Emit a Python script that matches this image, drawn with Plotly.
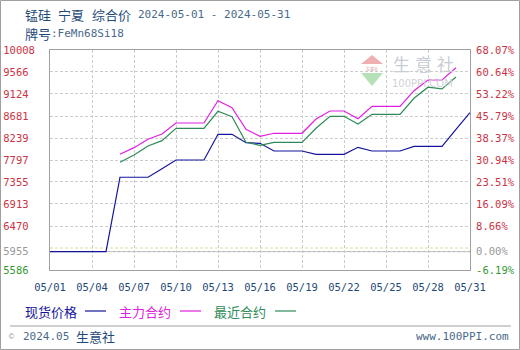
import plotly.graph_objects as go

# ---------------- data ----------------
dates = [f"2024-05-{d:02d}" for d in range(1, 32)]
spot = [5955, 5955, 5955, 5955, 5955, 7450, 7450, 7450, 7620, 7797, 7797, 7797,
        8314, 8314, 8145, 8132, 7978, 7978, 7978, 7911, 7911, 7911, 8052, 7978,
        7978, 7978, 8072, 8072, 8072, 8414, 8748]
main_contract = [None] * 5 + [7912, 8045, 8213, 8320, 8541, 8541, 8541, 8989, 8848,
                              8414, 8273, 8334, 8334, 8334, 8621, 8782, 8782, 8627,
                              8876, 8876, 8876, 9190, 9405, 9405, 9650, None]
near_contract = [None] * 5 + [7751, 7898, 8079, 8186, 8434, 8434, 8434, 8776, 8668,
                              8152, 8092, 8152, 8152, 8152, 8434, 8675, 8675, 8521,
                              8716, 8716, 8716, 9037, 9260, 9225, 9465, None]

y_ticks = [10008, 9566, 9124, 8681, 8239, 7797, 7355, 6913, 6470, 5955, 5586]
pct_labels = ["68.07%", "60.64%", "53.22%", "45.79%", "38.37%", "30.94%",
              "23.51%", "16.09%", "8.66%", "0.00%", "-6.19%"]
x_tick_dates = dates[::3]
x_tick_labels = [f"05/{d:02d}" for d in range(1, 32, 3)]

title_cn = ["锰硅", "宁夏", "综合价"]
title_dates = "2024-05-01 - 2024-05-31"
grade_cn = "牌号"
grade = ":FeMn68Si18"
series_names = ["现货价格", "主力合约", "最近合约"]

# ---------------- style ----------------
C_SPOT = "#14149c"
C_MAIN = "#e020e0"
C_NEAR = "#2e8b57"
RED = "#cc3344"
MONO = "DejaVu Sans Mono"
CJK = "Noto Sans CJK SC"
TXT = "#1f4a78"

W, H = 520, 350
L, R, T, B = 50, 50, 50, 80
PW, PH = W - L - R, H - T - B


def px(x):
    return (x - L) / PW


def py(y):
    return (H - B - y) / PH


def col(v):
    if v == 5955:
        return "#999999"
    if v == 5586:
        return "#339933"
    return RED


left_text = []
for v in y_ticks:
    s = str(v)
    s = s + "\u00a0" * (5 - len(s))
    left_text.append(f"<span style='color:{col(v)}'>{s}</span>")
right_text = [f"<span style='color:{col(v)}'>{p}</span>" for v, p in zip(y_ticks, pct_labels)]

fig = go.Figure()
fig.add_trace(go.Scatter(x=dates, y=spot, mode="lines", line=dict(color=C_SPOT, width=1.2),
                         name=series_names[0], showlegend=False, hoverinfo="skip"))
fig.add_trace(go.Scatter(x=dates, y=main_contract, mode="lines", line=dict(color=C_MAIN, width=1.2),
                         name=series_names[1], showlegend=False, hoverinfo="skip"))
fig.add_trace(go.Scatter(x=dates, y=near_contract, mode="lines", line=dict(color=C_NEAR, width=1.2),
                         name=series_names[2], showlegend=False, hoverinfo="skip"))
fig.add_trace(go.Scatter(x=dates, y=spot, yaxis="y2", mode="lines", line=dict(width=0),
                         opacity=0, showlegend=False, hoverinfo="skip"))

shapes = []
shapes.append(dict(type="line", xref="paper", yref="y", x0=0, x1=1, y0=5955, y1=5955,
                   line=dict(color="#a8a8a8", width=1), layer="below"))
shapes.append(dict(type="line", xref="paper", yref="y", x0=0, x1=1, y0=6028, y1=6028,
                   line=dict(color="#d6df9c", width=1, dash="3px,2px"), layer="below"))
for x0, c in [(85, C_SPOT), (180, C_MAIN), (275, C_NEAR)]:
    shapes.append(dict(type="line", xref="paper", yref="paper", x0=px(x0), x1=px(x0 + 21),
                       y0=py(311), y1=py(311), line=dict(color=c, width=1.2)))
shapes.append(dict(type="line", xref="paper", yref="paper", x0=px(10), x1=px(511),
                   y0=py(326), y1=py(326), line=dict(color="#a0a0a0", width=1)))
shapes.append(dict(type="rect", xref="paper", yref="paper", x0=px(0.5), x1=px(519.5),
                   y0=py(0.5), y1=py(349.5), line=dict(color="#a0a0a0", width=1)))
shapes.append(dict(type="path", xref="paper", yref="paper",
                   path=f"M {px(361)},{py(64)} L {px(372)},{py(55)} L {px(383)},{py(64)} Z",
                   fillcolor="#eeb0b0", line=dict(width=0), layer="below"))
shapes.append(dict(type="path", xref="paper", yref="paper",
                   path=f"M {px(361)},{py(73)} L {px(372)},{py(86)} L {px(383)},{py(73)} Z",
                   fillcolor="#b6e0b6", line=dict(width=0), layer="below"))

ann = []


def text(x, y, s, color, size, family, anchor="left"):
    ann.append(dict(x=px(x), y=py(y), xref="paper", yref="paper", text=s, showarrow=False,
                    xanchor=anchor, yanchor="middle", borderpad=0,
                    font=dict(color=color, size=size, family=family)))


for xx, s in zip([24, 57, 91], title_cn):
    text(xx, 15, s, TXT, 13, CJK)
text(137, 15, title_dates, "#4a6a8a", 11, MONO)
text(24, 34, grade_cn, TXT, 13, CJK)
text(50, 34, grade, "#4a6a8a", 11, MONO)
text(24, 311, series_names[0], C_SPOT, 13, CJK)
text(118, 311, series_names[1], C_MAIN, 13, CJK)
text(213, 311, series_names[2], C_NEAR, 13, CJK)
text(8, 336, "©", "#9aa0a8", 8, MONO)
text(22, 336, "2024.05", "#4a6a8a", 11, MONO)
text(75, 336, "生意社", TXT, 13, CJK)
text(510, 336, "www.100PPI.com", "#4a6a8a", 11, MONO, anchor="right")
# watermark text
for xx, s in zip([392, 414, 436], ["生", "意", "社"]):
    text(xx, 64, s, "#c8ccd4", 17, CJK)
text(391, 83, "100PPI.COM", "#cfd2d8", 10, "DejaVu Sans")
text(372, 69, "生意社", "#d8a0a0", 4, CJK, anchor="center")

fig.update_layout(
    width=W, height=H, margin=dict(l=L, r=R, t=T, b=B, autoexpand=False),
    paper_bgcolor="white", plot_bgcolor="white",
    shapes=shapes, annotations=ann,
    xaxis=dict(type="date", range=[dates[0], dates[-1]], tickvals=x_tick_dates, ticktext=x_tick_labels,
               tickfont=dict(family=MONO, size=10.5, color=TXT), automargin=False,
               showgrid=True, gridcolor="#cccccc", griddash="3px,2px", gridwidth=1,
               showline=True, linecolor="#a0a0a0", linewidth=1, mirror=True,
               ticks="outside", ticklen=7, tickcolor="rgba(0,0,0,0)", zeroline=False, fixedrange=True),
    yaxis=dict(range=[5586, 10008], tickvals=y_ticks, ticktext=left_text, automargin=False,
               tickfont=dict(family=MONO, size=10.5, color=RED),
               showgrid=True, gridcolor="#cccccc", griddash="3px,2px", gridwidth=1,
               showline=True, linecolor="#a0a0a0", linewidth=1, mirror=True,
               ticks="outside", ticklen=12, tickcolor="rgba(0,0,0,0)", zeroline=False, fixedrange=True),
    yaxis2=dict(range=[5586, 10008], tickvals=y_ticks, ticktext=right_text, overlaying="y", side="right",
                tickfont=dict(family=MONO, size=10.5, color=RED), showgrid=False, zeroline=False,
                automargin=False,
                ticks="outside", ticklen=3, tickcolor="rgba(0,0,0,0)", fixedrange=True),
)

fig.write_html("out.html", config=dict(displayModeBar=False))
